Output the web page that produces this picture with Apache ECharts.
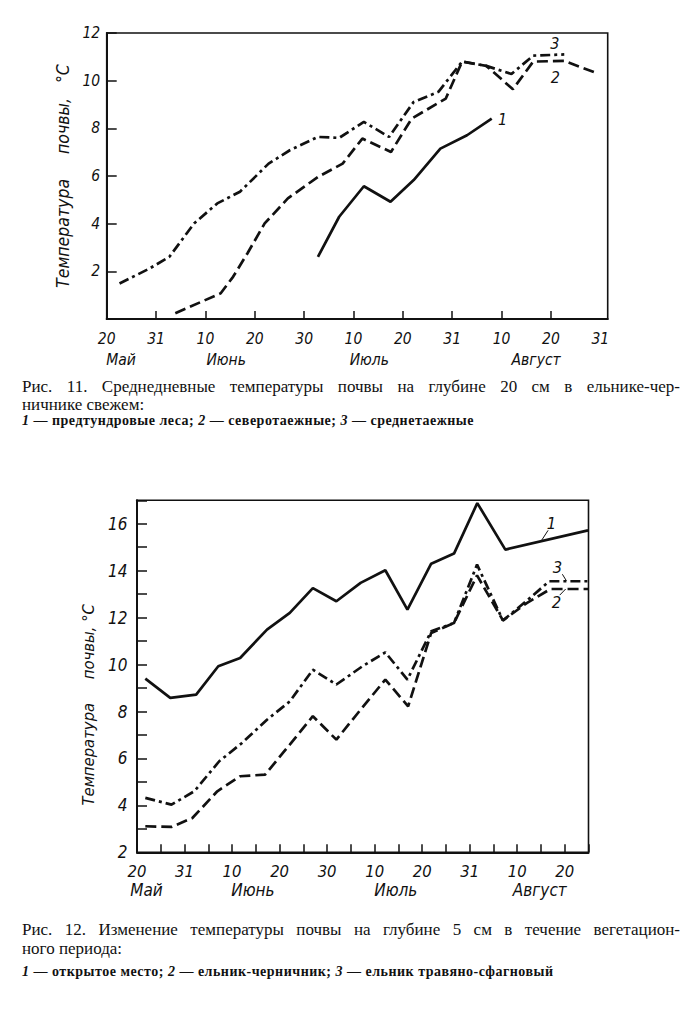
<!DOCTYPE html>
<html><head><meta charset="utf-8">
<script src="https://cdn.jsdelivr.net/npm/echarts@6/dist/echarts.min.js"></script>
<style>
html,body{margin:0;padding:0;background:#fff;}
#chart{position:absolute;left:0;top:0;width:683px;height:1031px;}
.cap{position:absolute;left:22px;width:658px;font-family:'Liberation Serif','DejaVu Serif',serif;font-size:17px;line-height:20px;color:#111;white-space:nowrap;}
.j{text-align:justify;text-align-last:justify;}
.leg{font-size:14px;line-height:16px;font-weight:bold;letter-spacing:0.5px;width:auto;}
</style></head><body>
<div id="chart"></div>
<div class="cap j" style="top:377px">Рис. 11. Среднедневные температуры почвы на глубине 20 см в ельнике-чер-</div>
<div class="cap" style="top:395px">ничнике свежем:</div>
<div class="cap leg" style="top:413px"><i>1</i> — предтундровые леса; <i>2</i> — северотаежные; <i>3</i> — среднетаежные</div>
<div class="cap j" style="top:920px">Рис. 12. Изменение температуры почвы на глубине 5 см в течение вегетацион-</div>
<div class="cap" style="top:939px">ного периода:</div>
<div class="cap leg" style="top:964px"><i>1</i> — открытое место; <i>2</i> — ельник-черничник; <i>3</i> — ельник травяно-сфагновый</div>
<script>
// ---------- Fig. 11 (20 cm depth) ----------
const f11TickLabels = ['20','31','10','20','30','10','20','31','10','20','31'];
const f11TickLabelPos = [0,1,2,3,4,5,6,7,8,9,10];
const f11TickPos = [1,2,3,4,5,6,7,8,9];
const f11Months = ['Май','Июнь','Июль','Август'];
const f11MonthPos = [0.29, 2.42, 5.32, 8.7];
const f11YTicks = [2,4,6,8,10,12];
// series 1: предтундровые леса
const f11s1x = [4.28,4.71,5.21,5.75,6.22,6.76,7.30,7.80];
const f11s1y = [2.61,4.29,5.57,4.92,5.83,7.15,7.71,8.41];
// series 2: северотаежные
const f11s2x = [1.39,2.31,2.56,2.85,3.20,3.67,4.28,4.78,5.18,5.76,6.18,6.87,7.20,7.69,8.23,8.64,9.27,9.91];
const f11s2y = [0.24,1.08,1.77,2.75,4.01,5.06,5.96,6.52,7.57,7.01,8.41,9.25,10.80,10.62,9.64,10.80,10.83,10.33];
// series 3: среднетаежные
const f11s3x = [0.26,0.87,1.27,1.77,2.24,2.70,3.28,3.71,4.28,4.71,5.21,5.72,6.22,6.72,7.20,7.69,8.20,8.64,9.27];
const f11s3y = [1.49,2.12,2.61,4.01,4.85,5.34,6.52,7.08,7.64,7.60,8.27,7.64,9.11,9.53,10.80,10.62,10.28,11.05,11.10];
const f11Labels = ['1','2','3'];
const f11LabelX = [8.02, 9.09, 9.08];
const f11LabelY = [8.35, 10.14, 11.57];

// ---------- Fig. 12 (5 cm depth) ----------
const f12TickLabels = ['20','31','10','20','30','10','20','31','10','20'];
const f12TickLabelPos = [0,2,4,6,8,10,12,14,16,18];
const f12Months = ['Май','Июнь','Июль','Август'];
const f12MonthPos = [0.4, 4.88, 10.89, 16.95];
const f12YTicks = [2,4,6,8,10,12,14,16];
// series 1: открытое место
const f12s1x = [0.35,1.40,2.49,3.42,4.34,5.47,6.43,7.40,8.39,9.41,10.45,11.38,12.38,13.34,14.32,15.50,18.98];
const f12s1y = [9.40,8.58,8.72,9.93,10.28,11.49,12.20,13.26,12.70,13.48,14.02,12.34,14.30,14.73,16.88,14.90,15.72];
// series 2: ельник-черничник
const f12s2x = [0.35,1.45,2.33,3.38,4.34,5.39,6.43,7.40,8.39,9.41,10.45,11.41,12.38,13.34,14.31,15.40,16.40,17.40,19.00];
const f12s2y = [3.11,3.08,3.46,4.60,5.24,5.31,6.59,7.80,6.80,8.08,9.36,8.22,11.35,11.77,13.80,11.88,12.62,13.22,13.22];
// series 3: ельник травяно-сфагновый
const f12s3x = [0.35,1.45,2.41,3.46,4.42,5.47,6.43,7.40,8.39,9.49,10.45,11.38,12.38,13.34,14.31,15.40,16.40,17.35,19.00];
const f12s3y = [4.32,4.03,4.60,5.88,6.66,7.65,8.43,9.78,9.15,9.93,10.52,9.36,11.42,11.77,14.26,11.88,12.72,13.55,13.55];
const f12Labels = ['1','3','2'];
const f12LabelX = [17.44, 17.69, 17.65];
const f12LabelY = [16.03, 14.13, 12.65];
const f12LeaderFrom = [[17.03,15.30],[17.90,13.85],[17.79,12.96]];
const f12LeaderTo   = [[17.30,15.72],[18.07,13.57],[18.04,13.22]];

const INK = '#111';
const FONT = "'Liberation Sans Narrow','DejaVu Sans Condensed','Liberation Sans',sans-serif";
const SOLID = 'solid', DASHED = [11,5], DASHDOT = [10,4,3,4];
const near = (arr, v) => arr.findIndex(p => Math.abs(p - v) < 1e-6);

function lbl(size, extra) {
  return Object.assign({color: INK, fontFamily: FONT, fontStyle: 'italic', fontSize: size}, extra || {});
}
function xAxisMain(grid, max, tickPos, interval, labPos, labs, size, margin) {
  const ax = {
    type: 'value', gridIndex: grid, min: 0, max: max,
    axisLine: {show: true, onZero: false, lineStyle: {color: INK, width: 2}},
    axisTick: {show: true, inside: true, length: 8, lineStyle: {color: INK, width: 1.5}},
    axisLabel: lbl(size, {margin: margin, fontWeight: 500, customValues: labPos, formatter: v => labs[near(labPos, v)]}),
    splitLine: {show: false}
  };
  if (tickPos) ax.axisTick.customValues = tickPos; else ax.interval = interval;
  return ax;
}
function xAxisMonths(grid, max, pos, names, size, offset, margin) {
  return {
    type: 'value', gridIndex: grid, min: 0, max: max, position: 'bottom', offset: offset,
    axisLine: {show: false}, axisTick: {show: false}, splitLine: {show: false},
    axisLabel: lbl(size, {margin: margin, customValues: pos, formatter: v => names[near(pos, v)]})
  };
}
function line(xs, ys, type, xi, name, extra) {
  return Object.assign({
    type: 'line', name: name, xAxisIndex: xi, yAxisIndex: xi === 0 ? 0 : 1,
    data: xs.map((x, i) => [x, ys[i]]), symbol: 'none', silent: true,
    lineStyle: {color: INK, width: 2.7, type: type}
  }, extra || {});
}
function labelPoints(labs, xs, ys, size) {
  return {
    symbol: 'rect', symbolSize: 1, silent: true, itemStyle: {color: 'rgba(0,0,0,0)'},
    label: lbl(size, {show: true, position: 'inside'}),
    data: labs.map((t, i) => ({coord: [xs[i], ys[i]], value: t, label: {formatter: t}}))
  };
}

const chart = echarts.init(document.getElementById('chart'), null, {renderer: 'svg'});
chart.setOption({
  animation: false,
  backgroundColor: '#fff',
  grid: [
    {left: 106.7, top: 33, width: 501, height: 286, show: true, borderColor: INK, borderWidth: 1.6, containLabel: false},
    {left: 137, top: 500.3, width: 451.5, height: 352, show: true, borderColor: INK, borderWidth: 1.6, containLabel: false}
  ],
  xAxis: [
    xAxisMain(0, 10.15, f11TickPos, null, f11TickLabelPos, f11TickLabels, 15.5, 12),
    xAxisMonths(0, 10.15, f11MonthPos, f11Months, 15.5, 21, 12),
    xAxisMain(1, 19, null, 1, f12TickLabelPos, f12TickLabels, 16.5, 11),
    xAxisMonths(1, 19, f12MonthPos, f12Months, 17, 18, 11)
  ],
  yAxis: [
    {
      type: 'value', gridIndex: 0, min: 0, max: 12, interval: 2,
      axisLine: {show: true, onZero: false, lineStyle: {color: INK, width: 2}},
      axisTick: {show: true, inside: true, length: 10, lineStyle: {color: INK, width: 1.5}},
      axisLabel: lbl(15.5, {margin: 6.5, fontWeight: 500, customValues: f11YTicks, formatter: v => String(v)}),
      splitLine: {show: false},
      name: 'Температура\u00A0\u00A0\u00A0\u00A0\u00A0почвы,\u00A0\u00A0\u00A0°С',
      nameLocation: 'middle', nameGap: 23, nameRotate: 90,
      nameTextStyle: lbl(17.5)
    },
    {
      type: 'value', gridIndex: 1, min: 2, max: 17, interval: 1,
      axisLine: {show: true, onZero: false, lineStyle: {color: INK, width: 2}},
      axisTick: {show: true, inside: true, length: 10, lineStyle: {color: INK, width: 1.5}},
      axisLabel: lbl(17, {margin: 9.5, fontWeight: 500, customValues: f12YTicks, formatter: v => String(v)}),
      splitLine: {show: false},
      name: 'Температура\u00A0\u00A0\u00A0\u00A0\u00A0почвы,\u00A0°С',
      nameLocation: 'middle', nameGap: 35, nameRotate: 90,
      nameTextStyle: lbl(16.5, {padding: [0, 57, 0, 0]})
    }
  ],
  series: [
    line(f11s3x, f11s3y, DASHDOT, 0, 'среднетаежные'),
    line(f11s2x, f11s2y, DASHED, 0, 'северотаежные'),
    line(f11s1x, f11s1y, SOLID, 0, 'предтундровые леса', {markPoint: labelPoints(f11Labels, f11LabelX, f11LabelY, 16)}),
    line(f12s3x, f12s3y, DASHDOT, 2, 'ельник травяно-сфагновый'),
    line(f12s2x, f12s2y, DASHED, 2, 'ельник-черничник'),
    line(f12s1x, f12s1y, SOLID, 2, 'открытое место', {
      markPoint: labelPoints(f12Labels, f12LabelX, f12LabelY, 16.5),
      markLine: {
        silent: true, symbol: ['none', 'none'], label: {show: false},
        lineStyle: {color: INK, width: 1, type: 'solid'},
        data: f12LeaderFrom.map((p, i) => [{coord: p}, {coord: f12LeaderTo[i]}])
      }
    })
  ]
});
</script>
</body></html>
